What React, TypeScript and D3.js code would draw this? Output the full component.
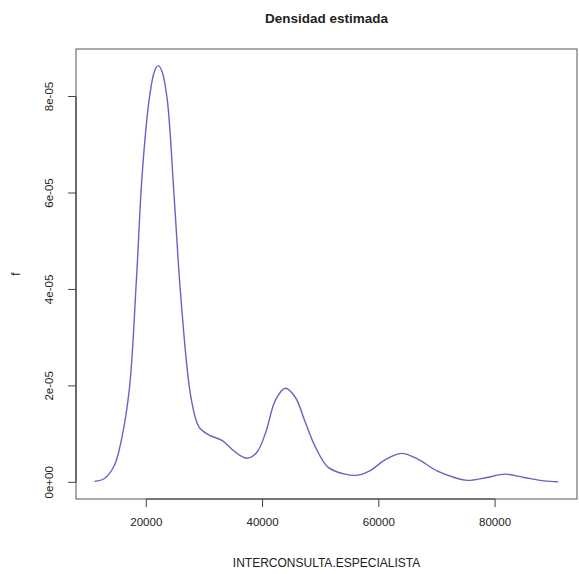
import { useEffect, useRef } from 'react';
import * as d3 from 'd3';

// Density estimate
const xValues = [
  11100, 12800, 14500, 15700, 17100, 18300, 19300, 20500, 21400, 22050,
  22700, 23600, 24800, 26000, 27700, 29100, 30800, 33000, 35400, 37300,
  39000, 40500, 42200, 43900, 45600, 47400, 49100, 51300, 54200, 56400,
  58600, 61000, 63900, 66700, 70100, 73000, 75200, 78600, 81700, 85000,
  88400, 90900,
];
const densityValues = [
  0.02e-5, 0.08e-5, 0.35e-5, 0.87e-5, 1.95e-5, 4.2e-5, 6.4e-5, 7.94e-5, 8.52e-5, 8.64e-5,
  8.52e-5, 7.94e-5, 5.9e-5, 3.75e-5, 1.75e-5, 1.14e-5, 0.98e-5, 0.87e-5, 0.62e-5, 0.5e-5,
  0.62e-5, 1.02e-5, 1.7e-5, 1.95e-5, 1.77e-5, 1.23e-5, 0.73e-5, 0.31e-5, 0.17e-5, 0.15e-5,
  0.25e-5, 0.46e-5, 0.6e-5, 0.48e-5, 0.23e-5, 0.1e-5, 0.04e-5, 0.1e-5, 0.17e-5, 0.1e-5,
  0.03e-5, 0.01e-5,
];
const xTicks = [20000, 40000, 60000, 80000];
const yTicks = [0, 2e-5, 4e-5, 6e-5, 8e-5];

const title = 'Densidad estimada';
const xLabel = 'INTERCONSULTA.ESPECIALISTA';
const yLabel = 'f';

// R style scientific labels: 2e-05, 0e+00
function sci(v: number) {
  const [m, e] = v.toExponential(0).split('e');
  const n = parseInt(e, 10);
  const sign = n < 0 ? '-' : '+';
  return `${m}e${sign}${String(Math.abs(n)).padStart(2, '0')}`;
}

export default function App() {
  const svgRef = useRef<SVGSVGElement>(null);

  useEffect(() => {
    if (!svgRef.current) return;
    const svg = d3.select(svgRef.current);
    svg.selectAll('*').remove();

    const width = 579;
    const height = 574;
    const left = 76, right = 577, top = 49, bottom = 499;
    const font = '"Liberation Sans", Arial, Helvetica, sans-serif';
    const ink = '#222';

    svg.attr('width', width).attr('height', height);

    svg.append('rect')
      .attr('width', width)
      .attr('height', height)
      .attr('fill', '#fff');

    // R pads the range by 4% on each side
    const [xMin, xMax] = d3.extent(xValues) as [number, number];
    const xPad = (xMax - xMin) * 0.04;
    const x = d3.scaleLinear().domain([xMin - xPad, xMax + xPad]).range([left, right]);

    const yMin = 0;
    const yMax = d3.max(densityValues) as number;
    const yPad = (yMax - yMin) * 0.04;
    const y = d3.scaleLinear().domain([yMin - yPad, yMax + yPad]).range([bottom, top]);

    const points = xValues.map((v, i) => [v, densityValues[i]] as [number, number]);

    const line = d3.line<[number, number]>()
      .x(d => x(d[0]))
      .y(d => y(d[1]))
      .curve(d3.curveCatmullRom.alpha(0.5));

    svg.append('path')
      .datum(points)
      .attr('d', line)
      .attr('fill', 'none')
      .attr('stroke', '#6464c4')
      .attr('stroke-width', 1.4);

    // Box
    svg.append('rect')
      .attr('x', left)
      .attr('y', top)
      .attr('width', right - left)
      .attr('height', bottom - top)
      .attr('fill', 'none')
      .attr('stroke', '#555')
      .attr('stroke-width', 1);

    // X axis
    const xAxis = svg.append('g').attr('transform', `translate(0, ${bottom})`);
    xAxis.append('line')
      .attr('x1', x(xTicks[0]))
      .attr('x2', x(xTicks[xTicks.length - 1]))
      .attr('stroke', '#444')
      .attr('stroke-width', 1.2);
    xAxis.selectAll('line.tick')
      .data(xTicks)
      .join('line')
      .attr('class', 'tick')
      .attr('x1', d => x(d))
      .attr('x2', d => x(d))
      .attr('y1', 0)
      .attr('y2', 8)
      .attr('stroke', '#444');
    xAxis.selectAll('text')
      .data(xTicks)
      .join('text')
      .attr('x', d => x(d))
      .attr('y', 27)
      .attr('text-anchor', 'middle')
      .style('font-family', font)
      .style('font-size', '11.5px')
      .style('fill', ink)
      .text(d => String(d));

    // Y axis
    const yAxis = svg.append('g').attr('transform', `translate(${left}, 0)`);
    yAxis.append('line')
      .attr('y1', y(yTicks[0]))
      .attr('y2', y(yTicks[yTicks.length - 1]))
      .attr('stroke', '#444')
      .attr('stroke-width', 1.2);
    yAxis.selectAll('line.tick')
      .data(yTicks)
      .join('line')
      .attr('class', 'tick')
      .attr('y1', d => y(d))
      .attr('y2', d => y(d))
      .attr('x1', 0)
      .attr('x2', -8)
      .attr('stroke', '#444');
    yAxis.selectAll('text')
      .data(yTicks)
      .join('text')
      .attr('transform', d => `translate(-23, ${y(d)}) rotate(-90)`)
      .attr('text-anchor', 'middle')
      .style('font-family', font)
      .style('font-size', '11.5px')
      .style('fill', ink)
      .text(d => sci(d));

    // Titles
    svg.append('text')
      .attr('x', (left + right) / 2)
      .attr('y', 23)
      .attr('text-anchor', 'middle')
      .style('font-family', font)
      .style('font-size', '13.5px')
      .style('font-weight', 'bold')
      .style('fill', ink)
      .text(title);

    svg.append('text')
      .attr('x', (left + right) / 2)
      .attr('y', 567)
      .attr('text-anchor', 'middle')
      .style('font-family', font)
      .style('font-size', '12px')
      .style('fill', ink)
      .text(xLabel);

    svg.append('text')
      .attr('transform', `translate(20, ${(top + bottom) / 2}) rotate(-90)`)
      .attr('text-anchor', 'middle')
      .style('font-family', font)
      .style('font-size', '12px')
      .style('fill', ink)
      .text(yLabel);
  }, []);

  return (
    <div style={{ position: 'absolute', left: 0, top: 0 }}>
      <svg ref={svgRef} style={{ display: 'block' }} />
    </div>
  );
}
